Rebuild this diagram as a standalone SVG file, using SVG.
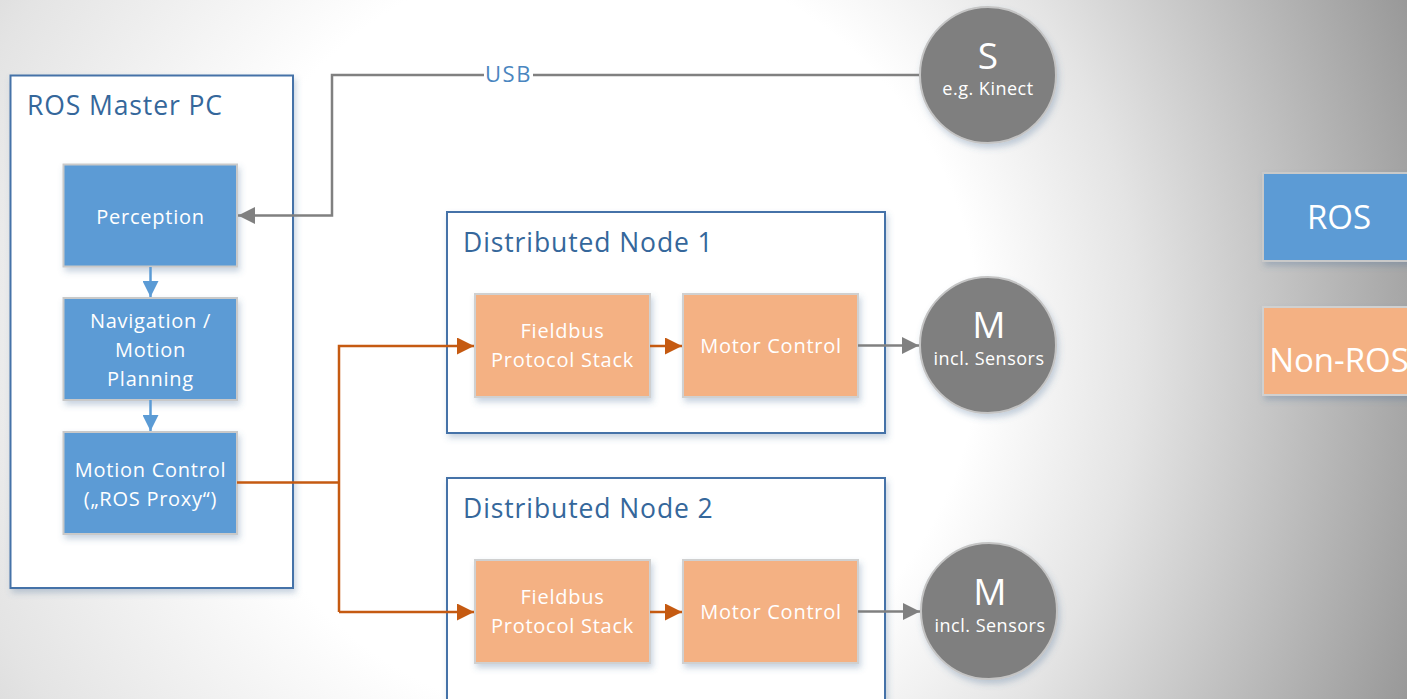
<svg xmlns="http://www.w3.org/2000/svg" width="1407" height="699" viewBox="0 0 1407 699">
  <defs>
    <radialGradient id="bg" gradientUnits="userSpaceOnUse" cx="400" cy="350" r="1100" fx="700" fy="330">
      <stop offset="0" stop-color="#ffffff"/>
      <stop offset="0.35" stop-color="#ffffff"/>
      <stop offset="0.55" stop-color="#e4e4e4"/>
      <stop offset="0.95" stop-color="#9a9a9a"/>
      <stop offset="1" stop-color="#8e8e8e"/>
    </radialGradient>
    <filter id="shadow" x="-10%" y="-10%" width="120%" height="125%">
      <feDropShadow dx="2" dy="4" stdDeviation="3" flood-color="#4a6f99" flood-opacity="0.3"/>
    </filter>
    <marker id="arrGray" viewBox="0 0 10 10" refX="10" refY="5" markerUnits="userSpaceOnUse" markerWidth="17" markerHeight="17" orient="auto">
      <path d="M0,0 L10,5 L0,10 z" fill="#808080"/>
    </marker>
    <marker id="arrOrange" viewBox="0 0 10 10" refX="10" refY="5" markerUnits="userSpaceOnUse" markerWidth="17" markerHeight="17" orient="auto">
      <path d="M0,0 L10,5 L0,10 z" fill="#c55a11"/>
    </marker>
    <marker id="arrBlue" viewBox="0 0 10 10" refX="10" refY="5" markerUnits="userSpaceOnUse" markerWidth="16" markerHeight="16" orient="auto">
      <path d="M0,0 L10,5 L0,10 z" fill="#5b9bd5"/>
    </marker>
    <style>
      text { font-family: "Open Sans", "Noto Sans", "DejaVu Sans", sans-serif; }
      .container { fill: #ffffff; stroke: #4472a8; stroke-width: 2; filter: url(#shadow); }
      .title { fill: #35679b; font-size: 26.5px; letter-spacing: 0.9px; }
      .ros { fill: #5b9bd5; stroke: #c9c9c9; stroke-width: 2; filter: url(#shadow); }
      .nonros { fill: #f4b183; stroke: #d0d0d0; stroke-width: 2; filter: url(#shadow); }
      .lbl { fill: #ffffff; font-size: 20px; letter-spacing: 0.75px; text-anchor: middle; }
      .dev { fill: #7f7f7f; stroke: #c4c4c4; stroke-width: 2; filter: url(#shadow); }
      .big { fill: #ffffff; font-size: 37px; text-anchor: middle; }
      .small { fill: #ffffff; font-size: 18px; letter-spacing: 0.5px; text-anchor: middle; }
      .legend { fill: #ffffff; font-size: 33px; text-anchor: middle; }
      .gray { fill: none; stroke: #808080; stroke-width: 2.5; }
      .orange { fill: none; stroke: #c55a11; stroke-width: 2.5; }
      .blue { fill: none; stroke: #5b9bd5; stroke-width: 2.5; }
    </style>
  </defs>

  <!-- backdrop -->
  <rect x="0" y="0" width="1407" height="699" fill="url(#bg)"/>

  <!-- ROS master PC and its ROS nodes -->
  <g id="ros-master-pc">
    <rect class="container" x="10.5" y="75.5" width="282.5" height="512.5"/>
    <text class="title" x="27" y="115">ROS Master PC</text>
  </g>
  <g id="perception">
    <rect class="ros" x="63.5" y="164.5" width="173.5" height="102"/>
    <text class="lbl" x="150.5" y="224">Perception</text>
  </g>
  <g id="navigation">
    <rect class="ros" x="63.5" y="298" width="173.5" height="102"/>
    <text class="lbl" x="150.5" y="328">Navigation /</text>
    <text class="lbl" x="150.5" y="357">Motion</text>
    <text class="lbl" x="150.5" y="386">Planning</text>
  </g>
  <g id="motion-control">
    <rect class="ros" x="63.5" y="432" width="173.5" height="102"/>
    <text class="lbl" x="150.5" y="477">Motion Control</text>
    <text class="lbl" x="150.5" y="506">(„ROS Proxy“)</text>
  </g>

  <!-- distributed node 1 -->
  <g id="distributed-node-1">
    <rect class="container" x="447" y="212" width="438" height="221"/>
    <text class="title" x="463" y="252">Distributed Node 1</text>
  </g>
  <g id="fieldbus-1">
    <rect class="nonros" x="475" y="294" width="175" height="103"/>
    <text class="lbl" x="562.5" y="338">Fieldbus</text>
    <text class="lbl" x="562.5" y="367">Protocol Stack</text>
  </g>
  <g id="motor-control-1">
    <rect class="nonros" x="683" y="294" width="175" height="103"/>
    <text class="lbl" x="771" y="353">Motor Control</text>
  </g>

  <!-- distributed node 2 -->
  <g id="distributed-node-2">
    <rect class="container" x="447" y="478" width="438" height="224"/>
    <text class="title" x="463" y="518">Distributed Node 2</text>
  </g>
  <g id="fieldbus-2">
    <rect class="nonros" x="475" y="560" width="175" height="103"/>
    <text class="lbl" x="562.5" y="604">Fieldbus</text>
    <text class="lbl" x="562.5" y="633">Protocol Stack</text>
  </g>
  <g id="motor-control-2">
    <rect class="nonros" x="683" y="560" width="175" height="103"/>
    <text class="lbl" x="771" y="619">Motor Control</text>
  </g>

  <!-- external devices -->
  <g id="sensor">
    <circle class="dev" cx="988" cy="75" r="68"/>
    <text class="big" x="988" y="69">S</text>
    <text class="small" x="988" y="95">e.g. Kinect</text>
  </g>
  <g id="motor-1">
    <circle class="dev" cx="988" cy="345" r="68"/>
    <text class="big" x="989" y="338">M</text>
    <text class="small" x="989" y="365">incl. Sensors</text>
  </g>
  <g id="motor-2">
    <circle class="dev" cx="989" cy="611" r="68"/>
    <text class="big" x="990" y="605">M</text>
    <text class="small" x="990" y="632">incl. Sensors</text>
  </g>

  <!-- legend -->
  <g id="legend-ros">
    <rect class="ros" x="1263" y="173" width="160" height="88"/>
    <text class="legend" x="1339" y="229">ROS</text>
  </g>
  <g id="legend-non-ros">
    <rect class="nonros" x="1263" y="307" width="160" height="88"/>
    <text class="legend" x="1339" y="372">Non-ROS</text>
  </g>

  <!-- connectors -->
  <g id="connectors">
    <!-- USB link from the sensor into perception -->
    <path class="gray" d="M919,75 H533"/>
    <path class="gray" d="M484,75 H332 V215.5 H238" marker-end="url(#arrGray)"/>
    <text x="508.5" y="82" fill="#4a86c0" font-size="22" letter-spacing="1.5" text-anchor="middle">USB</text>

    <!-- ROS pipeline -->
    <path class="blue" d="M150.5,267 V297" marker-end="url(#arrBlue)"/>
    <path class="blue" d="M150.5,400 V431" marker-end="url(#arrBlue)"/>

    <!-- fieldbus from the ROS proxy -->
    <path class="orange" d="M237,482.5 H339"/>
    <path class="orange" d="M339,612 V346 H474" marker-end="url(#arrOrange)"/>
    <path class="orange" d="M339,612 H474" marker-end="url(#arrOrange)"/>
    <path class="orange" d="M650,346 H682" marker-end="url(#arrOrange)"/>
    <path class="orange" d="M650,612 H682" marker-end="url(#arrOrange)"/>

    <!-- motor drives -->
    <path class="gray" d="M858,345.5 H919" marker-end="url(#arrGray)"/>
    <path class="gray" d="M858,611.5 H920" marker-end="url(#arrGray)"/>
  </g>
</svg>
